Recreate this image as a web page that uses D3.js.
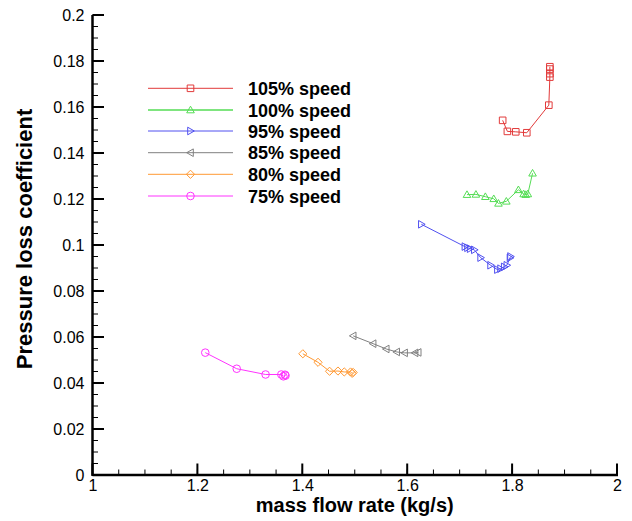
<!DOCTYPE html>
<html><head><meta charset="utf-8">
<script src="https://cdn.jsdelivr.net/npm/d3@7"></script>
<style>body{margin:0;background:#fff}svg{display:block;font-family:"Liberation Sans",Arial,sans-serif}</style>
</head><body><svg id="c" width="632" height="521"></svg>
<script>
const seriesNames = ["105% speed","100% speed","95% speed","85% speed","80% speed","75% speed"];
const seriesColors = ["#e23a3a","#55dd55","#5050f0","#808080","#ff9933","#ff33ff"];
const seriesMarkers = ["square","triUp","triRight","triLeft","diamond","circle"];
const flow105 = [1.782,1.791,1.807,1.828,1.870,1.872,1.872,1.872,1.872];
const loss105 = [0.1542,0.1494,0.1492,0.1488,0.1608,0.1730,0.1745,0.1765,0.1775];
const flow100 = [1.714,1.731,1.749,1.765,1.774,1.789,1.812,1.822,1.826,1.830,1.839];
const loss100 = [0.1219,0.1220,0.1210,0.1201,0.1181,0.1190,0.1240,0.1222,0.1219,0.1222,0.1312];
const flow95 = [1.627,1.710,1.715,1.720,1.728,1.740,1.759,1.772,1.778,1.785,1.790,1.796,1.797];
const loss95 = [0.1090,0.0993,0.0988,0.0984,0.0979,0.0945,0.0912,0.0893,0.0897,0.0905,0.0912,0.0944,0.0950];
const flow85 = [1.497,1.535,1.560,1.580,1.595,1.615,1.621];
const loss85 = [0.0605,0.0571,0.0548,0.0535,0.0531,0.0531,0.0533];
const flow80 = [1.401,1.430,1.452,1.468,1.480,1.492,1.495,1.497];
const loss80 = [0.0527,0.0490,0.0451,0.0452,0.0448,0.0448,0.0442,0.0446];
const flow75 = [1.215,1.275,1.330,1.360,1.364,1.367,1.368];
const loss75 = [0.0532,0.0462,0.0437,0.0437,0.0429,0.0436,0.0432];
const xTicks = [1,1.2,1.4,1.6,1.8,2];
const yTicks = [0,0.02,0.04,0.06,0.08,0.1,0.12,0.14,0.16,0.18,0.2];

const flows=[flow105,flow100,flow95,flow85,flow80,flow75];
const losses=[loss105,loss100,loss95,loss85,loss80,loss75];

const svg=d3.select("#c");
const L=92.5,R=617,T=15,B=475;
const x=d3.scaleLinear().domain([1,2]).range([L,R]);
const y=d3.scaleLinear().domain([0,0.2]).range([B,T]);

function markerPath(type,cx,cy){
  const s=3.3;
  switch(type){
    case "square": return `M${cx-s},${cy-s}h${2*s}v${2*s}h${-2*s}Z`;
    case "triUp": return `M${cx},${cy-s-0.5}L${cx+s+0.5},${cy+s-0.5}L${cx-s-0.5},${cy+s-0.5}Z`;
    case "triRight": return `M${cx+s+0.5},${cy}L${cx-s+0.5},${cy-s-0.5}L${cx-s+0.5},${cy+s+0.5}Z`;
    case "triLeft": return `M${cx-s-0.5},${cy}L${cx+s-0.5},${cy-s-0.5}L${cx+s-0.5},${cy+s+0.5}Z`;
    case "diamond": return `M${cx},${cy-s-0.8}L${cx+s+0.8},${cy}L${cx},${cy+s+0.8}L${cx-s-0.8},${cy}Z`;
    case "circle": { const r=s+0.5; return `M${cx-r},${cy}a${r},${r} 0 1,0 ${2*r},0a${r},${r} 0 1,0 ${-2*r},0Z`; }
  }
}

// axes
const gx=svg.append("g").attr("transform",`translate(0,${B})`);
gx.call(d3.axisBottom(x).tickValues(xTicks).tickSize(0).tickPadding(3).tickFormat(d=>d3.format("")(d)));
gx.select(".domain").remove();
gx.selectAll("text").attr("font-size",16).attr("font-family","Liberation Sans, Arial").attr("fill","#000").attr("dy","0.8em");
const gy=svg.append("g").attr("transform",`translate(${L},0)`);
gy.call(d3.axisLeft(y).tickValues(yTicks).tickSize(0).tickPadding(8).tickFormat(d=>d3.format("")(+d.toFixed(2))));
gy.select(".domain").remove();
gy.selectAll("text").attr("font-size",16).attr("font-family","Liberation Sans, Arial").attr("fill","#000");

// ticks inward
const minorX=d3.range(1,2.0001,0.05).map(v=>+v.toFixed(2));
const minorY=d3.range(0,0.20001,0.005).map(v=>+v.toFixed(3));
svg.append("g").selectAll("line").data(minorX).join("line")
  .attr("x1",d=>x(d)).attr("x2",d=>x(d)).attr("y1",B).attr("y2",B-5.5).attr("stroke","#000").attr("stroke-width",1);
svg.append("g").selectAll("line").data(xTicks).join("line")
  .attr("x1",d=>x(d)).attr("x2",d=>x(d)).attr("y1",B).attr("y2",B-11.5).attr("stroke","#000").attr("stroke-width",2);
svg.append("g").selectAll("line").data(minorY).join("line")
  .attr("x1",L).attr("x2",L+5.5).attr("y1",d=>y(d)).attr("y2",d=>y(d)).attr("stroke","#000").attr("stroke-width",1);
svg.append("g").selectAll("line").data(yTicks).join("line")
  .attr("x1",L).attr("x2",L+11.5).attr("y1",d=>y(d)).attr("y2",d=>y(d)).attr("stroke","#000").attr("stroke-width",2);
svg.append("line").attr("x1",L).attr("x2",R+1).attr("y1",B).attr("y2",B).attr("stroke","#000").attr("stroke-width",2.5);
svg.append("line").attr("x1",L).attr("x2",L).attr("y1",T).attr("y2",B+1).attr("stroke","#000").attr("stroke-width",2.5);

// titles
svg.append("text").attr("x",(L+R)/2).attr("y",512).attr("text-anchor","middle")
  .attr("font-size",20).attr("font-weight","bold").text("mass flow rate (kg/s)");
svg.append("text").attr("transform",`translate(32,${(T+B)/2-6}) rotate(-90)`).attr("text-anchor","middle")
  .attr("font-size",22).attr("font-weight","bold").text("Pressure loss coefficient");

// series
const line=d3.line();
seriesNames.forEach((name,i)=>{
  const pts=flows[i].map((f,j)=>[x(f),y(losses[i][j])]);
  const g=svg.append("g");
  g.append("path").attr("d",line(pts)).attr("fill","none").attr("stroke",seriesColors[i]).attr("stroke-width",1);
  g.selectAll("path.m").data(pts).join("path").attr("class","m")
    .attr("d",p=>markerPath(seriesMarkers[i],p[0],p[1])).attr("fill","none")
    .attr("stroke",seriesColors[i]).attr("stroke-width",1);
});

// legend
const legY=[88.3,110,131,152.7,174.3,196];
seriesNames.forEach((name,i)=>{
  const g=svg.append("g");
  g.append("line").attr("x1",148).attr("x2",233).attr("y1",legY[i]).attr("y2",legY[i])
    .attr("stroke",seriesColors[i]).attr("stroke-width",i===1?1.5:1);
  g.append("path").attr("d",markerPath(seriesMarkers[i],190.5,legY[i])).attr("fill","none")
    .attr("stroke",seriesColors[i]).attr("stroke-width",1);
  g.append("text").attr("x",248).attr("y",legY[i]+6.5).attr("font-size",18).attr("font-weight","bold").text(name);
});
</script></body></html>
